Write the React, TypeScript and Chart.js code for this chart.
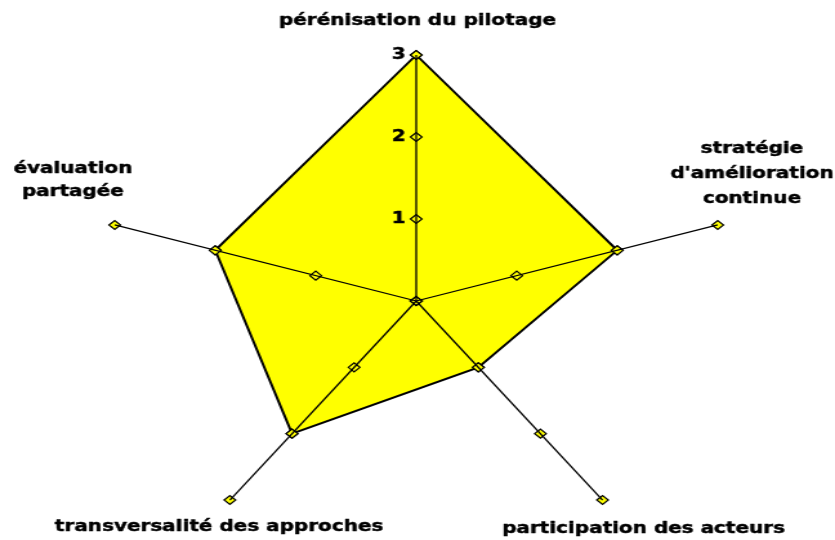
import React, { useEffect, useRef } from 'react';
import { Chart, registerables } from 'chart.js';

Chart.register(...registerables);

// ---- data ----
const CATEGORY_LINES: string[][] = [
  ['pérénisation du pilotage'],
  ['stratégie', "d'amélioration", 'continue'],
  ['participation des acteurs'],
  ['transversalité des approches'],
  ['évaluation', 'partagée'],
];
const CATEGORIES = CATEGORY_LINES.map((l) => l.join(' '));
const SCORES = [3, 2, 1, 2, 2];
const SCALE_MIN = 0;
const SCALE_MAX = 3;
const SCALE_STEP = 1;
const TICK_LEVELS = [0, 1, 2, 3];

// ---- styling / layout ----
const FONT_FAMILY = '"DejaVu Sans", "Verdana", sans-serif';
const FONT_SIZE = 15.5;
const TEXT_STROKE = 0.45;
const YELLOW = '#FFFF00';
const CANVAS_W = 648; // drawn width, stretched by CSS to 835px
const CANVAS_H = 560;
// label placement relative to each axis end point: [dx, dy of first baseline, line gap]
const LABEL_OFFSETS: number[][] = [
  [1, -30, 0],
  [26.6, -71.5, 25],
  [31.8, 33, 0],
  [-8.4, 31, 0],
  [-32.5, -52, 23.5],
];

const axisTitlePlugin = {
  id: 'axisTitles',
  afterDraw(chart: any) {
    const scale = chart.scales.r;
    const ctx = chart.ctx as CanvasRenderingContext2D;
    ctx.save();
    ctx.font = `bold ${FONT_SIZE}px ${FONT_FAMILY}`;
    ctx.fillStyle = '#000';
    ctx.strokeStyle = '#000';
    ctx.lineWidth = TEXT_STROKE;
    ctx.lineJoin = 'round';
    ctx.textAlign = 'center';
    ctx.textBaseline = 'alphabetic';
    CATEGORY_LINES.forEach((lines, i) => {
      const p = scale.getPointPosition(i, scale.drawingArea);
      const [dx, dy, gap] = LABEL_OFFSETS[i];
      lines.forEach((line, j) => {
        const x = p.x + dx;
        const y = p.y + dy + j * gap;
        ctx.fillText(line, x, y);
        ctx.strokeText(line, x, y);
      });
    });
    ctx.restore();
  },
};

export default function App() {
  const ref = useRef<HTMLCanvasElement>(null);

  useEffect(() => {
    const canvas = ref.current;
    if (!canvas) return;

    const markerStyle = {
      pointStyle: 'rectRot',
      pointRadius: 4.5,
      pointHoverRadius: 4.5,
      pointBackgroundColor: YELLOW,
      pointBorderColor: '#000',
      pointBorderWidth: 1.2,
    };

    const levelDatasets = TICK_LEVELS.map((v) => ({
      label: `niveau ${v}`,
      data: CATEGORIES.map(() => v),
      showLine: false,
      fill: false,
      borderWidth: 0,
      borderColor: 'rgba(0,0,0,0)',
      backgroundColor: 'rgba(0,0,0,0)',
      order: 0,
      ...markerStyle,
    }));

    const chart = new Chart(canvas, {
      type: 'radar',
      data: {
        labels: CATEGORIES,
        datasets: [
          {
            label: 'score',
            data: SCORES,
            fill: true,
            backgroundColor: YELLOW,
            borderColor: '#000',
            borderWidth: 2,
            tension: 0,
            order: 1,
            ...markerStyle,
          } as any,
          ...(levelDatasets as any[]),
        ],
      },
      options: {
        animation: false,
        responsive: false,
        devicePixelRatio: 1,
        events: [],
        layout: { padding: { left: 69, right: 71, top: 47, bottom: 5 } },
        plugins: {
          legend: { display: false },
          tooltip: { enabled: false },
        },
        scales: {
          r: {
            min: SCALE_MIN,
            max: SCALE_MAX,
            beginAtZero: true,
            ticks: {
              stepSize: SCALE_STEP,
              showLabelBackdrop: false,
              backdropPadding: 0,
              color: '#000',
              textStrokeColor: '#000',
              textStrokeWidth: TEXT_STROKE,
              font: { family: FONT_FAMILY, size: FONT_SIZE, weight: 'bold' },
              z: 2,
              callback: (value: any) => String(value) + '\u00a0\u00a0\u00a0\u00a0\u00a0',
            },
            grid: { display: false, z: 1 },
            angleLines: { display: true, color: '#000', lineWidth: 1.3 },
            pointLabels: { display: false },
          },
        },
      } as any,
      plugins: [axisTitlePlugin],
    });

    return () => chart.destroy();
  }, []);

  return (
    <div
      style={{
        position: 'fixed',
        top: 0,
        left: 0,
        width: 835,
        height: 540,
        overflow: 'hidden',
        background: '#fff',
      }}
    >
      <canvas
        ref={ref}
        width={CANVAS_W}
        height={CANVAS_H}
        style={{ display: 'block', width: '835px', height: `${CANVAS_H}px` }}
      />
    </div>
  );
}
